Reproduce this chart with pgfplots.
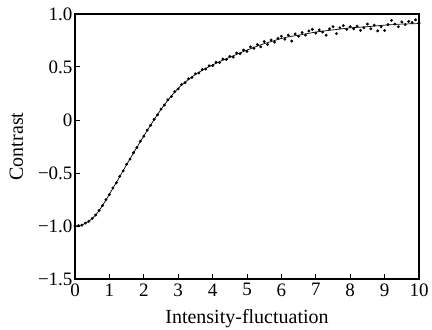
\documentclass[border=0pt]{standalone}
\usepackage{pgfplots}
\pgfplotsset{compat=1.18}
\usepackage{pgfplotstable}
\usepackage{fontspec}
\setmainfont{Liberation Serif}
\pgfplotstableread{
x y
0.0 -1.000
0.1 -0.998
0.2 -0.990
0.3 -0.975
0.4 -0.955
0.5 -0.930
0.6 -0.895
0.7 -0.855
0.8 -0.805
0.9 -0.755
1.0 -0.700
1.1 -0.645
1.2 -0.590
1.3 -0.535
1.4 -0.477
1.5 -0.421
1.6 -0.366
1.7 -0.312
1.8 -0.257
1.9 -0.203
2.0 -0.150
2.1 -0.098
2.2 -0.047
2.3 0.003
2.4 0.052
2.5 0.099
2.6 0.144
2.7 0.186
2.8 0.226
2.9 0.263
3.0 0.298
3.1 0.329
3.2 0.357
3.3 0.383
3.4 0.407
3.5 0.429
3.6 0.450
3.7 0.469
3.8 0.487
3.9 0.504
4.0 0.520
4.1 0.535
4.2 0.550
4.3 0.565
4.4 0.578
4.5 0.591
4.6 0.605
4.7 0.619
4.8 0.633
4.9 0.647
5.0 0.660
5.1 0.672
5.2 0.685
5.3 0.697
5.4 0.709
5.5 0.720
5.6 0.730
5.7 0.740
5.8 0.750
5.9 0.760
6.0 0.769
6.1 0.777
6.2 0.784
6.3 0.790
6.4 0.795
6.5 0.800
6.6 0.806
6.7 0.812
6.8 0.818
6.9 0.824
7.0 0.830
7.1 0.834
7.2 0.838
7.3 0.842
7.4 0.846
7.5 0.850
7.6 0.854
7.7 0.858
7.8 0.862
7.9 0.866
8.0 0.870
8.1 0.872
8.2 0.874
8.3 0.876
8.4 0.878
8.5 0.880
8.6 0.883
8.7 0.886
8.8 0.889
8.9 0.892
9.0 0.895
9.1 0.897
9.2 0.899
9.3 0.901
9.4 0.903
9.5 0.905
9.6 0.906
9.7 0.907
9.8 0.908
9.9 0.909
10.0 0.910
}\fittable
\pgfplotstableread{
x y
0.0 -1.000
0.1 -0.997
0.2 -0.992
0.3 -0.973
0.4 -0.957
0.5 -0.928
0.6 -0.897
0.7 -0.853
0.8 -0.807
0.9 -0.752
1.0 -0.703
1.1 -0.642
1.2 -0.592
1.3 -0.532
1.4 -0.480
1.5 -0.418
1.6 -0.369
1.7 -0.309
1.8 -0.260
1.9 -0.200
2.0 -0.153
2.1 -0.095
2.2 -0.050
2.3 0.006
2.4 0.049
2.5 0.102
2.6 0.141
2.7 0.190
2.8 0.222
2.9 0.268
3.0 0.293
3.1 0.335
3.2 0.352
3.3 0.389
3.4 0.401
3.5 0.436
3.6 0.443
3.7 0.476
3.8 0.481
3.9 0.511
4.0 0.513
4.1 0.545
4.2 0.541
4.3 0.575
4.4 0.570
4.5 0.600
4.6 0.594
4.7 0.632
4.8 0.625
4.9 0.660
5.0 0.648
5.1 0.690
5.2 0.676
5.3 0.712
5.4 0.690
5.5 0.740
5.6 0.712
5.7 0.755
5.8 0.735
5.9 0.770
6.0 0.790
6.1 0.762
6.2 0.800
6.3 0.745
6.4 0.812
6.5 0.790
6.6 0.825
6.7 0.800
6.8 0.840
6.9 0.855
7.0 0.820
7.1 0.850
7.2 0.830
7.3 0.800
7.4 0.860
7.5 0.880
7.6 0.815
7.7 0.870
7.8 0.890
7.9 0.855
8.0 0.880
8.1 0.860
8.2 0.885
8.3 0.845
8.4 0.870
8.5 0.905
8.6 0.860
8.7 0.895
8.8 0.840
8.9 0.880
9.0 0.845
9.1 0.900
9.2 0.940
9.3 0.905
9.4 0.880
9.5 0.925
9.6 0.900
9.7 0.930
9.8 0.920
9.9 0.945
10.0 0.915
}\dottable
\begin{document}
\begin{tikzpicture}
\begin{axis}[
  scale only axis,
  width=344pt, height=265pt,
  xmin=0, xmax=10, ymin=-1.5, ymax=1.0,
  xtick={0,1,...,10},
  ytick={-1.5,-1,-0.5,0,0.5,1},
  yticklabels={−1.5,−1.0,−0.5,0,0.5,1.0},
  /pgf/number format/assume math mode=true,
  xtick pos=bottom, ytick pos=left,
  tick align=inside,
  major tick length=5pt,
  axis line style={line width=1.3pt},
  every tick/.style={line width=1pt, black},
  tick label style={font=\fontsize{19}{21}\selectfont},
  xticklabel style={yshift=-1pt},
  yticklabel style={xshift=1pt},
  label style={font=\fontsize{20}{22}\selectfont},
  xlabel={Intensity-fluctuation},
  ylabel={Contrast},
  xlabel style={yshift=-6pt},
  ylabel style={yshift=8pt},
]
\addplot[black, line width=0.7pt, smooth] table[x=x,y=y] {\fittable};
\addplot[only marks, mark=*, mark size=1.25pt, black] table[x=x,y=y] {\dottable};
\end{axis}
\pgfresetboundingbox
\path ([xshift=-75pt,yshift=-50pt]current axis.south west) rectangle ([xshift=13pt,yshift=14pt]current axis.north east);
\end{tikzpicture}
\end{document}
